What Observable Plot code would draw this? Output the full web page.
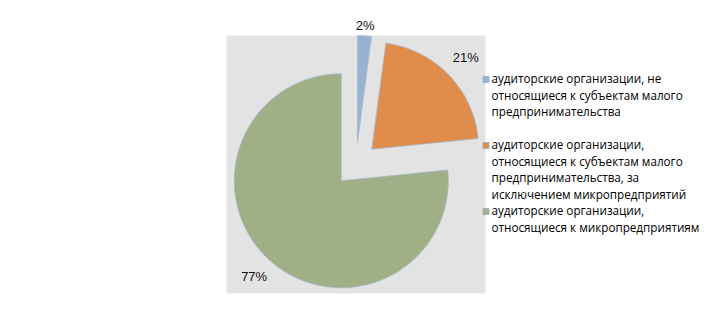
<!DOCTYPE html>
<html>
<head>
<meta charset="utf-8">
<script src="https://cdn.jsdelivr.net/npm/d3@7"></script>
<script src="https://cdn.jsdelivr.net/npm/@observablehq/plot@0.6"></script>
<style>
  html, body { margin: 0; padding: 0; background: #fff; }
  #chart { width: 711px; height: 330px; }
</style>
</head>
<body>
<div id="chart"></div>
<script>
// ---- data ----
const categories = [
  "аудиторские организации, не\nотносящиеся к субъектам малого\nпредпринимательства",
  "аудиторские организации,\nотносящиеся к субъектам малого\nпредпринимательства, за\nисключением микропредприятий",
  "аудиторские организации,\nотносящиеся к микропредприятиям"
];
const shares = [2.1, 21.3, 76.6];
const shareLabels = ["2%", "21%", "77%"];
const mainColors = ["#93c2e6", "#f7843a", "#a8c672"];
const dotColors  = ["#9aa4bc", "#c8945c", "#979797"];

// ---- layout ----
const W = 711, H = 330;
const mL = 226, mR = 226, mT = 35, mB = 37;
const Rpx = 107;              // pie radius in pixels
const explode = 0.205;        // explosion as fraction of radius
const xHalf = (W - mL - mR) / 2 / Rpx;
const yHalf = (H - mT - mB) / 2 / Rpx;

const pie = d3.pie().sort(null).value(d => d)(shares);
const slices = pie.map((p, i) => {
  const mid = (p.startAngle + p.endAngle) / 2;
  return {
    key: i, start: p.startAngle, end: p.endAngle, mid,
    cx: Math.sin(mid) * explode, cy: Math.cos(mid) * explode
  };
});

// polygon points for each slice (center -> arc -> center)
const pts = [];
for (const s of slices) {
  pts.push({key: s.key, x: s.cx, y: s.cy});
  const n = Math.max(4, Math.ceil((s.end - s.start) / (Math.PI / 180)));
  for (let k = 0; k <= n; ++k) {
    const a = s.start + (s.end - s.start) * k / n;
    pts.push({key: s.key, x: s.cx + Math.sin(a), y: s.cy + Math.cos(a)});
  }
  pts.push({key: s.key, x: s.cx, y: s.cy});
}

const labelData = slices.map(s => {
  const r = 1.08 + 0.2 * Math.abs(Math.sin(s.mid));
  return {x: s.cx + Math.sin(s.mid) * r, y: s.cy + Math.cos(s.mid) * r, text: shareLabels[s.key]};
});

const legendStartLine = [0, 4, 8];
const lineH = 16.5;

const marks = [
  Plot.frame({fill: "url(#bgPat)", stroke: "none"}),
  Plot.line(pts, {
    x: "x", y: "y", z: "key",
    fill: d => `url(#pat${d.key})`,
    stroke: "#a7b9d2", strokeWidth: 0.8, curve: "linear"
  }),
  Plot.text(labelData, {
    x: "x", y: "y", text: "text",
    fontSize: 13, fontFamily: "Liberation Sans, sans-serif", fill: "#111"
  })
];
categories.forEach((c, i) => {
  const top = 78 + legendStartLine[i] * lineH; // centre of first line (px)
  marks.push(Plot.dot([c], {
    frameAnchor: "top-left", dx: 485.5 - mL, dy: top - mT + 1,
    symbol: "square", r: 3.4, fill: `url(#pat${i})`, stroke: "#8ea6c6", strokeWidth: 0.6
  }));
  marks.push(Plot.text([c], {
    text: d => d, frameAnchor: "top-left", dx: 491 - mL, dy: top - mT - 7,
    textAnchor: "start", lineAnchor: "top", lineHeight: lineH / 11.7,
    fontSize: 11.7, fontFamily: "Open Sans, sans-serif", fill: "#000"
  }));
});

const svg = Plot.plot({
  width: W, height: H,
  marginLeft: mL, marginRight: mR, marginTop: mT, marginBottom: mB,
  x: {domain: [-xHalf, xHalf], axis: null},
  y: {domain: [-yHalf, yHalf], axis: null},
  style: {background: "#fff", overflow: "visible"},
  marks
});

// checkerboard patterns to mimic the dithered fills
const ns = "http://www.w3.org/2000/svg";
const defs = document.createElementNS(ns, "defs");
function pattern(id, a, b) {
  const p = document.createElementNS(ns, "pattern");
  p.setAttribute("id", id);
  p.setAttribute("width", 2); p.setAttribute("height", 2);
  p.setAttribute("patternUnits", "userSpaceOnUse");
  const add = (x, y, w, h, f) => {
    const r = document.createElementNS(ns, "rect");
    r.setAttribute("x", x); r.setAttribute("y", y);
    r.setAttribute("width", w); r.setAttribute("height", h);
    r.setAttribute("fill", f); p.appendChild(r);
  };
  add(0, 0, 2, 2, a);
  add(0, 0, 1, 1, b);
  add(1, 1, 1, 1, b);
  defs.appendChild(p);
}
pattern("bgPat", "#ffffff", "#c6c6c6");
mainColors.forEach((c, i) => pattern("pat" + i, c, dotColors[i]));
svg.insertBefore(defs, svg.firstChild);

document.getElementById("chart").appendChild(svg);
</script>
</body>
</html>
